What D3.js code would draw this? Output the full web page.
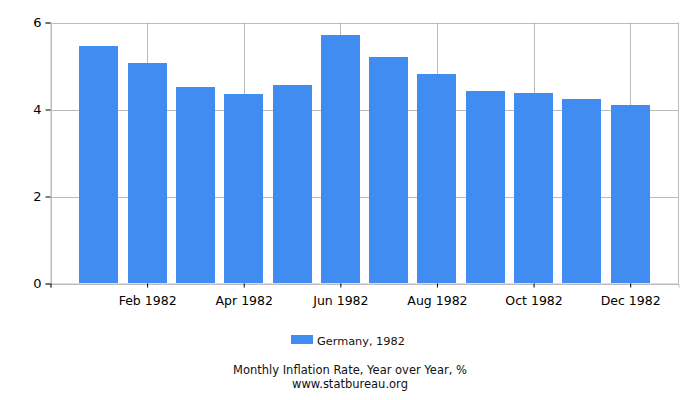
<!DOCTYPE html>
<html><head><meta charset="utf-8">
<script src="https://cdn.jsdelivr.net/npm/d3@7"></script>
<style>body{margin:0;background:#fff;} text{font-family:"DejaVu Sans",sans-serif;}</style>
</head><body>
<svg id="c" width="700" height="400"></svg>
<script>
const months = ["Jan 1982","Feb 1982","Mar 1982","Apr 1982","May 1982","Jun 1982","Jul 1982","Aug 1982","Sep 1982","Oct 1982","Nov 1982","Dec 1982"];
const values = [5.47, 5.06, 4.51, 4.35, 4.57, 5.72, 5.20, 4.82, 4.42, 4.39, 4.25, 4.11];
const yTicks = [0, 2, 4, 6];
const xTickLabels = ["", "Feb 1982", "Apr 1982", "Jun 1982", "Aug 1982", "Oct 1982", "Dec 1982"];
const seriesName = "Germany, 1982";
const title = "Monthly Inflation Rate, Year over Year, %";
const source = "www.statbureau.org";

const svg = d3.select("#c");
const L = 50.5, R = 678.5, T = 22.5, B = 283.5;
// month index: -1 = Dec 1981 ... 12 = Jan 1983
const x = d3.scaleLinear().domain([-1, 12]).range([L, R]);
const y = d3.scaleLinear().domain([0, 6]).range([B, T]);
const grid = "#bbbbbb";
const xTickIdx = xTickLabels.map((_, i) => -1 + 2 * i);

// gridlines
svg.append("g").selectAll("line").data(yTicks).join("line")
  .attr("x1", L).attr("x2", R).attr("y1", d => Math.round(y(d))+0.5).attr("y2", d => Math.round(y(d))+0.5)
  .attr("stroke", grid);
svg.append("g").selectAll("line").data(xTickIdx).join("line")
  .attr("x1", d => Math.round(x(d))+0.5).attr("x2", d => Math.round(x(d))+0.5).attr("y1", T).attr("y2", B)
  .attr("stroke", grid);
svg.append("line").attr("x1", R).attr("x2", R).attr("y1", T).attr("y2", B).attr("stroke", grid);

// bars
const bw = 39;
svg.append("g").selectAll("rect").data(values).join("rect")
  .attr("x", (d,i) => Math.round(x(i) - bw/2))
  .attr("width", bw)
  .attr("y", d => Math.round(y(d)))
  .attr("height", d => Math.round(B - 0.5) - Math.round(y(d)))
  .attr("fill", "#418cf0");

// axes
const yAxis = d3.axisLeft(y).tickValues(yTicks).tickSize(5).tickPadding(4).tickFormat(d3.format("d"));
const gy = svg.append("g").attr("transform", `translate(${L},0)`).call(yAxis);
gy.select(".domain").attr("stroke", grid);
gy.selectAll(".tick line").attr("stroke", "#000");
gy.selectAll("text").attr("font-size", 13).attr("fill", "#000").attr("font-family", "DejaVu Sans");

const xAxis = d3.axisBottom(x).tickValues(xTickIdx).tickSize(4).tickPadding(8.5)
  .tickFormat((d, i) => xTickLabels[i]);
const gx = svg.append("g").attr("transform", `translate(0,${B})`).call(xAxis);
gx.select(".domain").attr("stroke", grid);
gx.selectAll(".tick line").attr("stroke", "#000");
gx.selectAll("text").attr("font-size", 12.5).attr("fill", "#000").attr("font-family", "DejaVu Sans");

// legend
svg.append("rect").attr("x", 291).attr("y", 335).attr("width", 22).attr("height", 9).attr("fill", "#418cf0");
svg.append("text").attr("x", 317).attr("y", 345).attr("font-size", 11.3).attr("fill", "#111").text(seriesName);

// title
svg.append("text").attr("x", 350).attr("y", 374).attr("text-anchor", "middle").attr("font-size", 11.5).attr("fill", "#111").text(title);
svg.append("text").attr("x", 350).attr("y", 387.5).attr("text-anchor", "middle").attr("font-size", 11.5).attr("fill", "#111").text(source);
</script>
</body></html>
